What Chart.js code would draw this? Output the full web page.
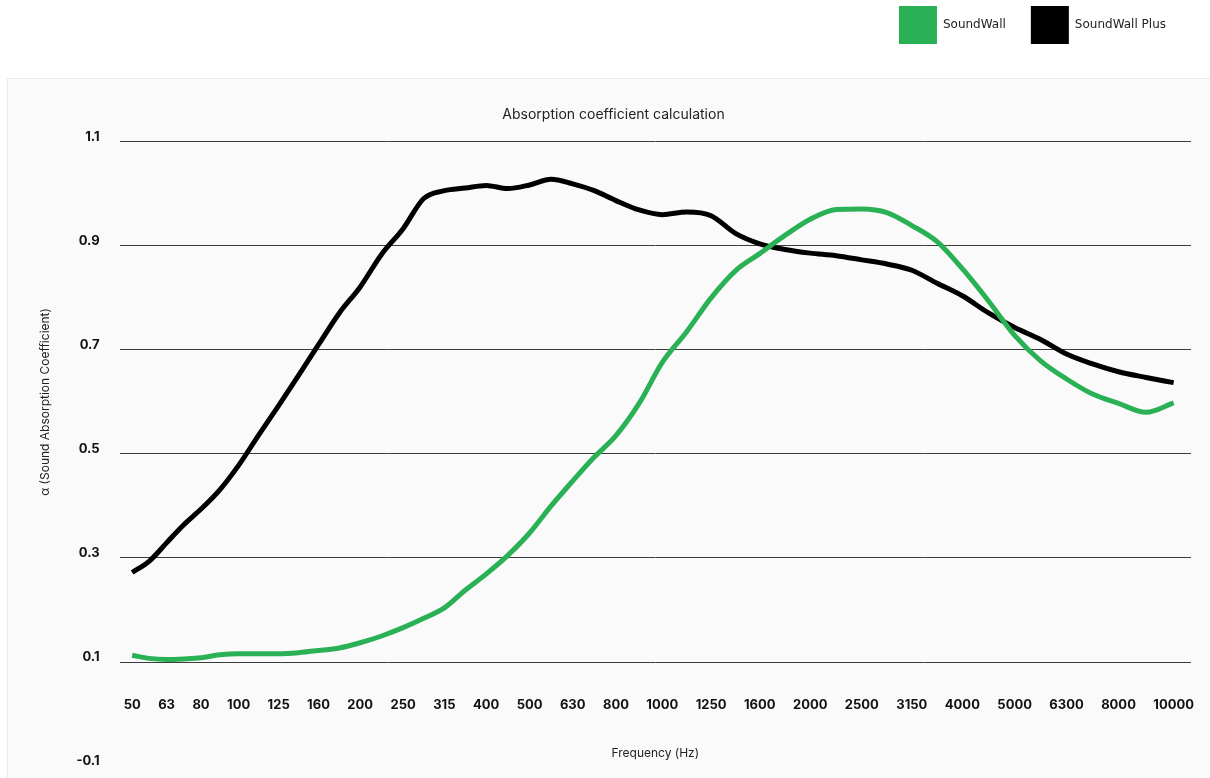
<!DOCTYPE html>
<html>
<head>
<meta charset="utf-8">
<script src="https://cdn.jsdelivr.net/npm/chart.js@4.4.1/dist/chart.umd.min.js"></script>
<style>
  html, body { margin: 0; padding: 0; background: #fff; overflow: hidden; }
  body { width: 1210px; height: 778px; position: relative; }
  .panel {
    position: absolute; left: 7px; top: 78px; right: 0; bottom: 0;
    background: #fafafa; border-top: 1px solid #ececec; border-left: 1px solid #ececec;
  }
  .wrap { position: absolute; left: 0; top: -19px; width: 1210px; height: 797px; }
</style>
</head>
<body>
<div class="panel"></div>
<div class="wrap"><canvas id="absorption"></canvas></div>
<script>
// Third-octave bands (Hz)
const bands = [
	'50', '63', '80', '100', '125', '160', '200', '250', '315', '400', '500', '630',
	'800', '1000', '1250', '1600', '2000', '2500', '3150', '4000', '5000', '6300', '8000', '10000'
];

// Absorption coefficient, read every half band from 50 Hz to 10000 Hz
const soundWall = [
	0.113, 0.107, 0.105, 0.106, 0.108, 0.114, 0.116, 0.116, 0.116, 0.118, 0.122, 0.127,
	0.137, 0.150, 0.166, 0.184, 0.204, 0.238, 0.269, 0.305, 0.348, 0.400, 0.448, 0.494,
	0.535, 0.597, 0.676, 0.735, 0.800, 0.852, 0.885, 0.920, 0.951, 0.970, 0.971, 0.964,
	0.939, 0.908, 0.856, 0.794, 0.728, 0.679, 0.644, 0.615, 0.597, 0.580, 0.598
];
const soundWallPlus = [
	0.272, 0.294, 0.329, 0.364, 0.394, 0.431, 0.478, 0.536, 0.593, 0.651, 0.710, 0.771,
	0.821, 0.884, 0.933, 0.991, 1.006, 1.011, 1.016, 1.010, 1.017, 1.028, 1.019, 1.006,
	0.987, 0.969, 0.960, 0.965, 0.958, 0.924, 0.904, 0.893, 0.886, 0.881, 0.873, 0.865,
	0.853, 0.828, 0.804, 0.771, 0.743, 0.720, 0.692, 0.673, 0.658, 0.647, 0.637
];

// Y tick labels
const yTicks = [-0.1, 0.1, 0.3, 0.5, 0.7, 0.9, 1.1];

// Colours / fonts
const green = '#2bb155';
const black = '#000000';
const gridColor = '#3c3c3c';
const tickFont = { family: 'Inter', size: 13, weight: 'bold' };

// Band labels sit in a row with equal gaps between them
const measure = document.createElement('canvas').getContext('2d');
measure.font = 'bold 13px Inter';
const widths = bands.map(b => measure.measureText(b).width);
const rowSpan = 1070;
const gap = (rowSpan - widths.reduce((a, b) => a + b, 0)) / (bands.length - 1);
const bandPos = [];
let cursor = 0;
widths.forEach(w => {
	bandPos.push(cursor + w / 2);
	cursor += w + gap;
});

// position of a (half) band step on the x axis
function posAt(step) {
	const i = Math.floor(step);
	if (i >= bandPos.length - 1) return bandPos[bandPos.length - 1];
	return bandPos[i] + (step - i) * (bandPos[i + 1] - bandPos[i]);
}
const toPoints = values => values.map((v, k) => ({ x: posAt(k / 2), y: v }));

const absorption = document.getElementById('absorption');

const absorptionChart = new Chart(absorption, {
	type: 'line',
	data: {
		datasets: [
			{
				label: 'SoundWall',
				data: toPoints(soundWall),
				borderColor: green,
				backgroundColor: green
			},
			{
				label: 'SoundWall Plus',
				data: toPoints(soundWallPlus),
				borderColor: black,
				backgroundColor: black
			}
		]
	},
	options: {
		responsive: true,
		maintainAspectRatio: false,
		animation: false,
		layout: { autoPadding: false, padding: { left: 36, right: 19, top: 0, bottom: 0 } },
		elements: {
			point: { radius: 0 },
			line: { borderWidth: 5, cubicInterpolationMode: 'monotone', borderJoinStyle: 'round' }
		},
		plugins: {
			legend: {
				position: 'top',
				align: 'end',
				weight: 3000,
				labels: {
					boxWidth: 38,
					boxHeight: 38,
					padding: 25,
					color: '#222',
					font: { family: 'DejaVu Sans', size: 12 },
					generateLabels: chart =>
						Chart.defaults.plugins.legend.labels.generateLabels(chart)
							.map(item => ({ ...item, lineWidth: 0 }))
				}
			},
			title: {
				display: true,
				text: 'Absorption coefficient calculation',
				color: '#222',
				font: { family: 'Inter', size: 14, weight: 'normal' },
				padding: { top: 52, bottom: 19 }
			},
			tooltip: { enabled: false }
		},
		scales: {
			x: {
				type: 'linear',
				min: -4,
				max: 1067,
				grid: { display: false },
				border: { display: false },
				afterBuildTicks: scale => {
					scale.ticks = bandPos.map(v => ({ value: v }));
				},
				// labels may run a few px past the plot edge, as in the original
				afterFit: scale => {
					scale.paddingLeft = 0;
					scale.paddingRight = 0;
				},
				ticks: {
					autoSkip: false,
					maxRotation: 0,
					minRotation: 0,
					padding: 27,
					color: '#111',
					font: tickFont,
					callback: (value, index) => bands[index]
				},
				title: {
					display: true,
					text: 'Frequency (Hz)',
					color: '#222',
					font: { family: 'Inter', size: 12 },
					padding: { top: 7, bottom: 17 }
				}
			},
			y: {
				min: 0.1,
				max: 1.1,
				afterBuildTicks: scale => {
					scale.ticks = yTicks.map(v => ({ value: v }));
				},
				grid: {
					color: ctx => (ctx.tick && ctx.tick.value < 0.1 ? 'rgba(0,0,0,0)' : gridColor),
					drawTicks: false
				},
				border: { display: false },
				ticks: {
					padding: 20,
					labelOffset: -5,
					color: '#111',
					font: tickFont,
					callback: value => value.toFixed(1)
				},
				title: {
					display: true,
					text: 'α (Sound Absorption Coefficient)',
					color: '#222',
					font: { family: 'Inter', size: 12 },
					padding: { top: 2, bottom: 4 }
				}
			}
		}
	}
});
</script>
</body>
</html>
